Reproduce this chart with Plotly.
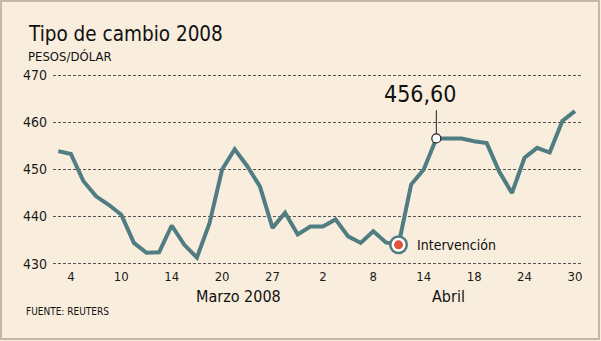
import plotly.graph_objects as go

dates = ["03-03", "03-04", "03-05", "03-06", "03-07", "03-10", "03-11", "03-12", "03-13", "03-14",
         "03-17", "03-18", "03-19", "03-20", "03-24", "03-25", "03-26", "03-27", "03-28", "03-31",
         "04-01", "04-02", "04-03", "04-04", "04-07", "04-08", "04-09", "04-10", "04-11", "04-14",
         "04-15", "04-16", "04-17", "04-18", "04-21", "04-22", "04-23", "04-24", "04-25", "04-28",
         "04-29", "04-30"]
values = [453.9, 453.3, 447.5, 444.3, 442.5, 440.4, 434.4, 432.3, 432.4, 438.1,
          434.0, 431.3, 438.6, 450.0, 454.3, 450.7, 446.4, 437.6, 440.8, 436.2,
          437.9, 437.9, 439.4, 435.8, 434.4, 436.9, 434.5, 434.0, 446.8, 450.0,
          456.6, 456.6, 456.6, 456.0, 455.6, 449.5, 445.0, 452.5, 454.6, 453.6,
          460.3, 462.4]
tick_dates = ["03-04", "03-10", "03-14", "03-20", "03-27", "04-02", "04-08", "04-14", "04-18", "04-24", "04-30"]
tick_text = ["4", "10", "14", "20", "27", "2", "8", "14", "18", "24", "30"]
y_ticks = [430, 440, 450, 460, 470]
intervention_date = "04-10"
peak_date = "04-15"
peak_label = "456,60"

W, H = 601, 341
L, R, T, B = 53, 19, 73, 75
PW, PH = W - L - R, H - T - B

def px(xp):
    return (xp - L) / PW

def py(yp):
    return (H - B - yp) / PH

BG = "#F9EEDD"
LINE = "#507D82"
FONT = "DejaVu Sans Condensed, DejaVu Sans, sans-serif"

iv = values[dates.index(intervention_date)]
pk = values[dates.index(peak_date)]

fig = go.Figure()
fig.add_trace(go.Scatter(x=dates, y=values, mode="lines",
                         line=dict(color=LINE, width=4), hoverinfo="skip"))
# intervention marker layers
fig.add_trace(go.Scatter(x=[intervention_date], y=[iv], mode="markers",
                         marker=dict(size=19, color=LINE, line=dict(width=0))))
fig.add_trace(go.Scatter(x=[intervention_date], y=[iv], mode="markers",
                         marker=dict(size=14, color="white", line=dict(width=0))))
fig.add_trace(go.Scatter(x=[intervention_date], y=[iv], mode="markers",
                         marker=dict(size=9, color="#E2533B", line=dict(width=0))))
# peak marker
fig.add_trace(go.Scatter(x=[peak_date], y=[pk], mode="markers",
                         marker=dict(size=9, color="white", line=dict(width=1.2, color="#222"))))

fig.update_layout(
    width=W, height=H, showlegend=False,
    margin=dict(l=L, r=R, t=T, b=B, pad=0),
    paper_bgcolor=BG, plot_bgcolor=BG,
    font=dict(family=FONT, color="#1a1a1a"),
    xaxis=dict(type="category", range=[-0.42, 41.56], tickvals=tick_dates, ticktext=tick_text,
               showgrid=False, zeroline=False, showline=False, ticks="",
               tickfont=dict(size=13, color="#1a1a1a"), ticklabelstandoff=1),
    yaxis=dict(range=[429.5, 470.5], tickvals=y_ticks, showgrid=True, gridcolor="#555",
               griddash="3px,2px", gridwidth=1, zeroline=False, showline=False, ticks="",
               tickfont=dict(size=14, color="#1a1a1a"), ticklabelstandoff=5),
)

ann = [
    dict(text="Tipo de cambio 2008", x=px(26), y=py(34), xanchor="left", yanchor="middle",
         font=dict(size=20.5, color="#111")),
    dict(text="PESOS/DÓLAR", x=px(26), y=py(57), xanchor="left", yanchor="middle",
         font=dict(size=13, color="#111")),
    dict(text="Marzo 2008", x=px(238), y=py(296), xanchor="center", yanchor="middle",
         font=dict(size=16, color="#111")),
    dict(text="Abril", x=px(448), y=py(296), xanchor="center", yanchor="middle",
         font=dict(size=16, color="#111")),
    dict(text="FUENTE: REUTERS", x=px(24), y=py(311), xanchor="left", yanchor="middle",
         font=dict(size=10, color="#111")),
]
for a in ann:
    a.update(xref="paper", yref="paper", showarrow=False)
    fig.add_annotation(**a)

fig.add_annotation(text=peak_label, x=peak_date, y=pk, xref="x", yref="y", showarrow=False,
                   yshift=44, xshift=-16, font=dict(size=23, color="#111", family=FONT), yanchor="middle")
fig.add_annotation(text="Intervención", x=intervention_date, y=iv, xref="x", yref="y",
                   showarrow=False, xanchor="left", xshift=16, yanchor="middle",
                   font=dict(size=14, color="#111", family=FONT))

# leader line for peak
fig.add_shape(type="line", xref="x", yref="y", x0=peak_date, x1=peak_date, y0=pk + 1.0, y1=pk + 6.0,
              line=dict(color="#222", width=1))
# frame
fig.add_shape(type="rect", xref="paper", yref="paper", x0=px(1), x1=px(599), y0=py(339), y1=py(1),
              line=dict(color="#C4B8AD", width=2), layer="above")

fig.write_html("out.html")
